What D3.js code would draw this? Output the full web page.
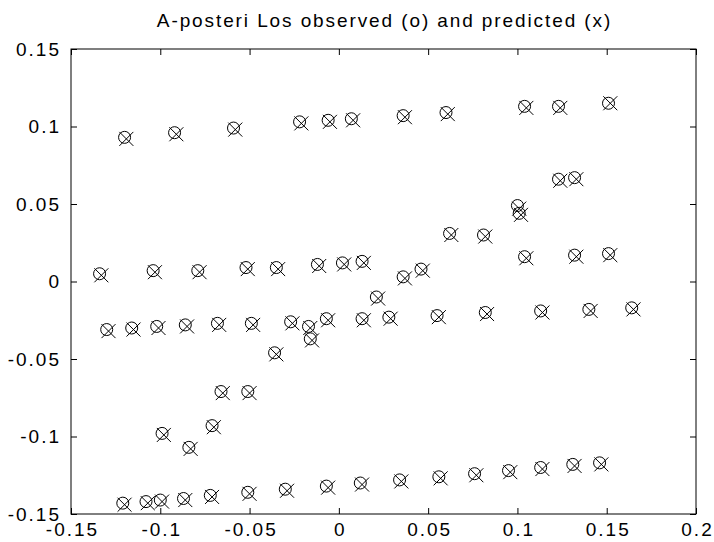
<!DOCTYPE html>
<html>
<head>
<meta charset="utf-8">
<script src="https://cdn.jsdelivr.net/npm/d3@7"></script>
<style>
  html, body { margin: 0; padding: 0; background: #fff; }
  svg { display: block; }
  text { font-family: "Liberation Sans", Arial, sans-serif; fill: #000; }
</style>
</head>
<body>
<script>
// ---- data ----
const titleText = "A-posteri Los observed (o) and predicted (x)";
const xTicks = [-0.15, -0.1, -0.05, 0, 0.05, 0.1, 0.15, 0.2];
const xTickLabels = ["-0.15", "-0.1", "-0.05", "0", "0.05", "0.1", "0.15", "0.2"];
const yTicks = [-0.15, -0.1, -0.05, 0, 0.05, 0.1, 0.15];
const yTickLabels = ["-0.15", "-0.1", "-0.05", "0", "0.05", "0.1", "0.15"];

// observed (o)
const obsX = [
  -0.120, -0.092, -0.059, -0.022, -0.006, 0.007, 0.036, 0.060, 0.104, 0.123, 0.151,
  -0.134, -0.104, -0.079, -0.052, -0.035, -0.012, 0.002, 0.013, 0.036, 0.046, 0.062, 0.081, 0.100, 0.101, 0.123, 0.132, 0.104, 0.132, 0.151, 0.021,
  -0.130, -0.116, -0.102, -0.086, -0.068, -0.049, -0.027, -0.017, -0.016, -0.007, -0.036, -0.066, -0.051, -0.099, -0.084, -0.071, 0.013, 0.028, 0.055, 0.082, 0.113, 0.140, 0.164,
  -0.121, -0.108, -0.100, -0.087, -0.072, -0.051, -0.030, -0.007, 0.012, 0.034, 0.056, 0.076, 0.095, 0.113, 0.131, 0.146
];
const obsY = [
  0.093, 0.096, 0.099, 0.103, 0.104, 0.105, 0.107, 0.109, 0.113, 0.113, 0.115,
  0.005, 0.007, 0.007, 0.009, 0.009, 0.011, 0.012, 0.013, 0.003, 0.008, 0.031, 0.030, 0.049, 0.044, 0.066, 0.067, 0.016, 0.017, 0.018, -0.010,
  -0.031, -0.030, -0.029, -0.028, -0.027, -0.027, -0.026, -0.029, -0.037, -0.024, -0.046, -0.071, -0.071, -0.098, -0.107, -0.093, -0.024, -0.023, -0.022, -0.020, -0.019, -0.018, -0.017,
  -0.143, -0.142, -0.141, -0.140, -0.138, -0.136, -0.134, -0.132, -0.130, -0.128, -0.126, -0.124, -0.122, -0.120, -0.118, -0.117
];
// predicted (x)
const predX = [
  -0.119, -0.091, -0.058, -0.021, -0.005, 0.008, 0.037, 0.061, 0.105, 0.124, 0.152,
  -0.133, -0.103, -0.078, -0.051, -0.034, -0.011, 0.003, 0.014, 0.037, 0.047, 0.063, 0.082, 0.101, 0.102, 0.124, 0.133, 0.105, 0.133, 0.152, 0.022,
  -0.129, -0.115, -0.101, -0.085, -0.067, -0.048, -0.026, -0.016, -0.015, -0.006, -0.035, -0.065, -0.050, -0.098, -0.083, -0.070, 0.014, 0.029, 0.056, 0.083, 0.114, 0.141, 0.165,
  -0.120, -0.107, -0.099, -0.086, -0.071, -0.050, -0.029, -0.006, 0.013, 0.035, 0.057, 0.077, 0.096, 0.114, 0.132, 0.147
];
const predY = [
  0.092, 0.095, 0.098, 0.102, 0.103, 0.104, 0.106, 0.108, 0.112, 0.112, 0.115,
  0.004, 0.006, 0.006, 0.008, 0.008, 0.010, 0.011, 0.012, 0.002, 0.007, 0.030, 0.029, 0.047, 0.043, 0.065, 0.066, 0.015, 0.016, 0.017, -0.011,
  -0.032, -0.031, -0.030, -0.029, -0.028, -0.028, -0.027, -0.030, -0.038, -0.025, -0.047, -0.072, -0.072, -0.099, -0.108, -0.094, -0.025, -0.024, -0.023, -0.021, -0.020, -0.019, -0.018,
  -0.144, -0.143, -0.142, -0.141, -0.139, -0.137, -0.135, -0.133, -0.131, -0.129, -0.127, -0.125, -0.123, -0.121, -0.119, -0.118
];

// ---- layout ----
const W = 714, H = 542;
const L = 71, R = 696, T = 49, B = 514;
const FS = 19, LS = 2;

const svg = d3.select("body").append("svg").attr("width", W).attr("height", H);

const x = d3.scaleLinear().domain([-0.15, 0.2]).range([L, R]);
const y = d3.scaleLinear().domain([-0.15, 0.15]).range([B, T]);

// title
svg.append("text")
  .attr("x", (L + R) / 2 + 1).attr("y", 27)
  .attr("text-anchor", "middle")
  .style("font-size", "19px").style("letter-spacing", "1.9px")
  .text(titleText);

// axes
const fmtX = d => xTickLabels[xTicks.indexOf(d)];
const fmtY = d => yTickLabels[yTicks.indexOf(d)];

const gx = svg.append("g").attr("transform", `translate(0,${B})`)
  .call(d3.axisBottom(x).tickValues(xTicks).tickFormat(fmtX).tickSizeInner(-6).tickSizeOuter(0).tickPadding(9));
const gy = svg.append("g").attr("transform", `translate(${L},0)`)
  .call(d3.axisLeft(y).tickValues(yTicks).tickFormat(fmtY).tickSizeInner(-6).tickSizeOuter(0).tickPadding(8 + LS));
const gt = svg.append("g").attr("transform", `translate(0,${T})`)
  .call(d3.axisTop(x).tickValues(xTicks).tickFormat("").tickSizeInner(-6).tickSizeOuter(0));
const gr = svg.append("g").attr("transform", `translate(${R},0)`)
  .call(d3.axisRight(y).tickValues(yTicks).tickFormat("").tickSizeInner(-6).tickSizeOuter(0));

[gx, gy, gt, gr].forEach(g => {
  g.select(".domain").remove();
  g.selectAll(".tick line").attr("stroke", "#000");
  g.selectAll("text")
    .style("font-size", FS + "px").style("letter-spacing", LS + "px")
    .attr("font-family", null).attr("fill", "#000");
});
gx.selectAll("text").attr("dx", LS / 2);

// frame
svg.append("rect")
  .attr("x", L).attr("y", T).attr("width", R - L).attr("height", B - T)
  .attr("fill", "none").attr("stroke", "#000").attr("stroke-width", 1);

// markers
const obs = obsX.map((v, i) => ({ x: v, y: obsY[i] }));
const pred = predX.map((v, i) => ({ x: v, y: predY[i] }));

svg.append("g").selectAll("circle").data(obs).join("circle")
  .attr("cx", d => x(d.x)).attr("cy", d => y(d.y)).attr("r", 6)
  .attr("fill", "none").attr("stroke", "#000").attr("stroke-width", 1);

const s = 7;
svg.append("g").selectAll("path").data(pred).join("path")
  .attr("d", d => {
    const cx = x(d.x), cy = y(d.y);
    return `M${cx - s},${cy - s}L${cx + s},${cy + s}M${cx - s},${cy + s}L${cx + s},${cy - s}`;
  })
  .attr("fill", "none").attr("stroke", "#000").attr("stroke-width", 1);
</script>
</body>
</html>
